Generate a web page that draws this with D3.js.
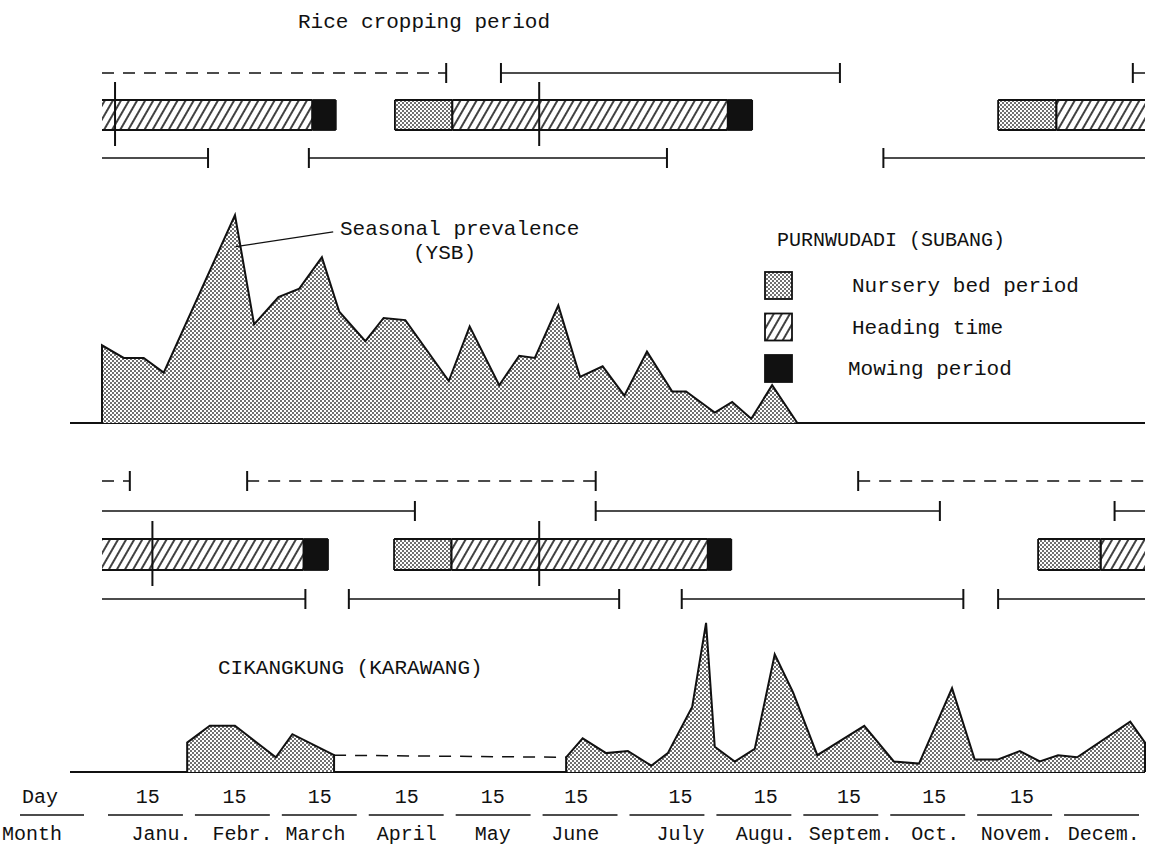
<!DOCTYPE html>
<html><head><meta charset="utf-8">
<script src="https://cdn.jsdelivr.net/npm/d3@7"></script>
<style>
body{margin:0;background:#fff}
svg text{font-family:"Liberation Mono","Courier New",monospace;fill:#111}
</style>
</head><body>
<svg id="chart" width="1168" height="849"></svg>
<script>
// ---------- DATA (x in months from 1 January, 0..12) ----------
const monthNames = ["Janu.","Febr.","March","April","May","June","July","Augu.","Septem.","Oct.","Novem.","Decem."];
const monthLabelPos = [0.68,1.61,2.45,3.50,4.49,5.44,6.65,7.63,8.61,9.58,10.52,11.52];
const dayTickPos = [0.52,1.52,2.50,3.50,4.49,5.45,6.65,7.63,8.59,9.57,10.58];
const dayTickLabels = ["15","15","15","15","15","15","15","15","15","15","15"];

// Seasonal prevalence (YSB), Purnwudadi (Subang)
const subangMonth = [0,0.25,0.48,0.71,1.53,1.75,2.03,2.27,2.53,2.73,3.03,3.24,3.49,3.99,4.23,4.57,4.80,4.98,5.25,5.50,5.76,6.01,6.27,6.56,6.72,7.05,7.25,7.47,7.71,8.00];
const subangValue = [37,31,31,24,99,47,60,64,79,53,39,50,49,20,46,18,32,31,56,22,27,13,34,15,15,5,10,2,18,0];

// Seasonal prevalence, Cikangkung (Karawang): two observed stretches
const karawangMonthA = [0.98,1.24,1.53,2.00,2.19,2.67];
const karawangValueA = [14,22,22,7,18,8];
const karawangMonthB = [5.34,5.53,5.80,6.05,6.32,6.51,6.79,6.95,7.05,7.28,7.51,7.74,7.95,8.23,8.77,9.11,9.40,9.78,10.04,10.31,10.56,10.79,11.00,11.22,11.83,12.0];
const karawangValueB = [7,16,9,10,3,9,31,71,12,5,11,56,38,8,22,5,4,40,6,6,10,5,8,7,24,14];

// Rice cropping periods, Purnwudadi
const subangDashedPeriods = [[0,3.96]];
const subangUpperPeriods = [[4.59,8.49],[11.86,12]];
const subangLowerPeriods = [[0,1.22],[2.38,6.50],[8.99,12]];
const subangNursery = [[3.37,4.03],[10.31,10.98]];
const subangHeading = [[0,2.42],[4.03,7.20],[10.98,12]];
const subangMowing = [[2.42,2.69],[7.20,7.48]];
const subangMarks = [0.15,5.03];

// Rice cropping periods, Cikangkung
const karawangDashedPeriods = [[0,0.32],[1.67,5.68],[8.70,12]];
const karawangUpperPeriods = [[0,3.60],[5.68,9.64],[11.65,12]];
const karawangLowerPeriods = [[0,2.34],[2.84,5.95],[6.67,9.91],[10.31,12]];
const karawangNursery = [[3.36,4.02],[10.77,11.49]];
const karawangHeading = [[0,2.32],[4.02,6.97],[11.49,12]];
const karawangMowing = [[2.32,2.60],[6.97,7.24]];
const karawangMarks = [0.58,5.03];

const legendItems = ["Nursery bed period","Heading time","Mowing period"];

// ---------- DRAWING ----------
const svg = d3.select("#chart");
const ink = "#111";
const x = d3.scaleLinear().domain([0,12]).range([102,1145]);
const y1 = d3.scaleLinear().domain([0,100]).range([423,213]);
const y2 = d3.scaleLinear().domain([0,100]).range([772,562]);

const defs = svg.append("defs");
const dots = defs.append("pattern").attr("id","dots").attr("patternUnits","userSpaceOnUse")
  .attr("width",4).attr("height",4);
dots.append("rect").attr("width",4).attr("height",4).attr("fill","#fff");
dots.append("circle").attr("cx",1).attr("cy",1).attr("r",0.95).attr("fill","#333");
dots.append("circle").attr("cx",3).attr("cy",3).attr("r",0.95).attr("fill","#333");
const hatch = defs.append("pattern").attr("id","hatch").attr("patternUnits","userSpaceOnUse")
  .attr("width",7).attr("height",7).attr("patternTransform","rotate(30)");
hatch.append("rect").attr("width",7).attr("height",7).attr("fill","#fff");
hatch.append("line").attr("x1",1).attr("y1",0).attr("x2",1).attr("y2",7).attr("stroke",ink).attr("stroke-width",1.6);

function txt(t, px, py, size, anchor){
  return svg.append("text").attr("x",px).attr("y",py).attr("font-size",size)
    .attr("text-anchor",anchor||"start").text(t);
}

// title
txt("Rice cropping period", 298, 28, 21);

// period lines with end ticks
function periods(list, py, dashed){
  const g = svg.append("g");
  g.selectAll("line.p").data(list).join("line")
    .attr("x1",d=>x(d[0])).attr("x2",d=>x(d[1])).attr("y1",py).attr("y2",py)
    .attr("stroke",ink).attr("stroke-width",1.5)
    .attr("stroke-dasharray",dashed?"12,9":null);
  const ticks = [];
  list.forEach(d=>{ if(d[0]>0) ticks.push(d[0]); if(d[1]<12) ticks.push(d[1]); });
  g.selectAll("line.t").data(ticks).join("line")
    .attr("x1",d=>x(d)).attr("x2",d=>x(d)).attr("y1",py-10).attr("y2",py+10)
    .attr("stroke",ink).attr("stroke-width",2);
}

function bars(nursery, heading, mowing, marks, top, h){
  const g = svg.append("g");
  const all = [];
  nursery.forEach(d=>all.push({d, f:"url(#dots)"}));
  heading.forEach(d=>all.push({d, f:"url(#hatch)"}));
  mowing.forEach(d=>all.push({d, f:ink}));
  g.selectAll("rect").data(all).join("rect")
    .attr("x",s=>x(s.d[0])).attr("width",s=>x(s.d[1])-x(s.d[0]))
    .attr("y",top).attr("height",h).attr("fill",s=>s.f);
  // outlines
  all.forEach(s=>{
    g.append("line").attr("x1",x(s.d[0])).attr("x2",x(s.d[1])).attr("y1",top).attr("y2",top)
      .attr("stroke",ink).attr("stroke-width",1.8);
    g.append("line").attr("x1",x(s.d[0])).attr("x2",x(s.d[1])).attr("y1",top+h).attr("y2",top+h)
      .attr("stroke",ink).attr("stroke-width",1.8);
    [s.d[0],s.d[1]].forEach(v=>{ if(v>0 && v<12)
      g.append("line").attr("x1",x(v)).attr("x2",x(v)).attr("y1",top).attr("y2",top+h)
        .attr("stroke",ink).attr("stroke-width",1.8); });
  });
  g.selectAll("line.m").data(marks).join("line")
    .attr("x1",d=>x(d)).attr("x2",d=>x(d)).attr("y1",top-18).attr("y2",top+h+16)
    .attr("stroke",ink).attr("stroke-width",2);
}

periods(subangDashedPeriods, 73, true);
periods(subangUpperPeriods, 73, false);
bars(subangNursery, subangHeading, subangMowing, subangMarks, 100, 30);
periods(subangLowerPeriods, 158, false);

periods(karawangDashedPeriods, 481, true);
periods(karawangUpperPeriods, 511, false);
bars(karawangNursery, karawangHeading, karawangMowing, karawangMarks, 539, 31);
periods(karawangLowerPeriods, 599, false);

// area charts
function areaChart(months, values, ys){
  const pts = months.map((m,i)=>[m, values[i]]);
  const area = d3.area().x(d=>x(d[0])).y0(ys(0)).y1(d=>ys(d[1]));
  const line = d3.line().x(d=>x(d[0])).y(d=>ys(d[1]));
  svg.append("path").attr("d",area(pts)).attr("fill","url(#dots)").attr("stroke","none");
  const edge = [[months[0],0]].concat(pts).concat([[months[months.length-1],0]]);
  svg.append("path").attr("d",line(edge)).attr("fill","none").attr("stroke",ink)
    .attr("stroke-width",2).attr("stroke-linejoin","miter");
}
// baselines
svg.append("line").attr("x1",70).attr("x2",x(12)).attr("y1",y1(0)).attr("y2",y1(0)).attr("stroke",ink).attr("stroke-width",2);
svg.append("line").attr("x1",70).attr("x2",x(12)).attr("y1",y2(0)).attr("y2",y2(0)).attr("stroke",ink).attr("stroke-width",2);

areaChart(subangMonth, subangValue, y1);
areaChart(karawangMonthA, karawangValueA, y2);
areaChart(karawangMonthB, karawangValueB, y2);
// dashed link across the unobserved stretch
svg.append("line")
  .attr("x1",x(karawangMonthA[karawangMonthA.length-1])).attr("y1",y2(karawangValueA[karawangValueA.length-1]))
  .attr("x2",x(karawangMonthB[0])).attr("y2",y2(karawangValueB[0]))
  .attr("stroke",ink).attr("stroke-width",1.5).attr("stroke-dasharray","12,9");

// annotation
svg.append("line").attr("x1",x(1.54)).attr("y1",y1(84)).attr("x2",x(2.66)).attr("y2",y1(91))
  .attr("stroke",ink).attr("stroke-width",1.3);
txt("Seasonal prevalence", 340, 235, 21);
txt("(YSB)", 413, 259, 21);

// legend
txt("PURNWUDADI (SUBANG)", 777, 246, 20);
const legFills = ["url(#dots)","url(#hatch)",ink];
const lg = svg.append("g");
lg.selectAll("rect").data(legendItems).join("rect")
  .attr("x",765).attr("y",(d,i)=>272+i*41.5).attr("width",27).attr("height",27)
  .attr("fill",(d,i)=>legFills[i]).attr("stroke",ink).attr("stroke-width",1.8);
lg.selectAll("text").data(legendItems).join("text")
  .attr("x",(d,i)=>i==2?848:852).attr("y",(d,i)=>292+i*41.5).attr("font-size",21).text(d=>d);

txt("CIKANGKUNG (KARAWANG)", 218, 674, 21);

// bottom axes
const dayAxis = d3.axisBottom(x).tickValues(dayTickPos).tickFormat((d,i)=>dayTickLabels[i]).tickSize(0);
const gd = svg.append("g").attr("transform","translate(0,803)").call(dayAxis);
gd.select(".domain").remove();
gd.selectAll("text").attr("y",0).attr("dy",0).attr("font-size",20).attr("font-family",null).attr("fill",ink);

const monthAxis = d3.axisBottom(x).tickValues(monthLabelPos).tickFormat((d,i)=>monthNames[i]).tickSize(0);
const gm = svg.append("g").attr("transform","translate(0,840)").call(monthAxis);
gm.select(".domain").remove();
gm.selectAll("text").attr("y",0).attr("dy",0).attr("font-size",20).attr("font-family",null).attr("fill",ink);

txt("Day", 22, 803, 20);
txt("Month", 2, 840, 20);
svg.append("line").attr("x1",20).attr("x2",84).attr("y1",815).attr("y2",815).attr("stroke",ink).attr("stroke-width",1.5);
svg.selectAll("line.mu").data(d3.range(12)).join("line")
  .attr("x1",d=>x(d)+6).attr("x2",d=>x(d+1)-6).attr("y1",815).attr("y2",815)
  .attr("stroke",ink).attr("stroke-width",1.5);
</script>
</body></html>
